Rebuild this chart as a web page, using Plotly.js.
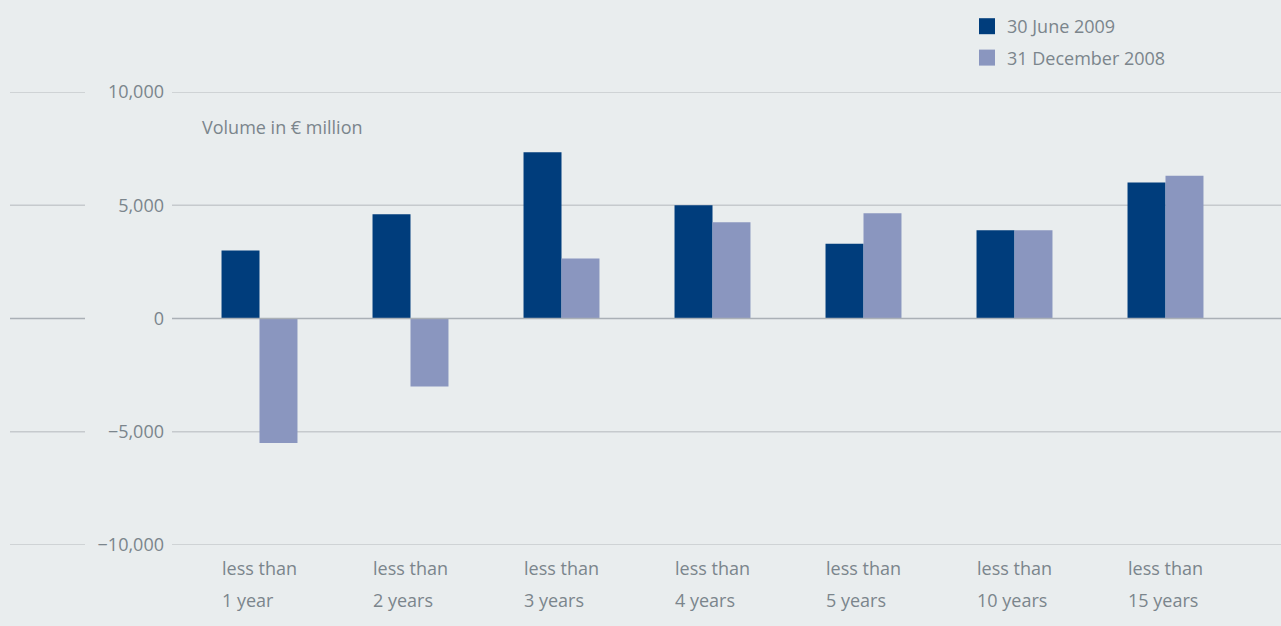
<!DOCTYPE html>
<html><head><meta charset="utf-8">
<script src="https://cdn.plot.ly/plotly-3.0.1.min.js"></script>
<style>html,body{margin:0;padding:0;background:#e9edee;} #chart{width:1281px;height:626px;}</style>
</head><body><div id="chart"></div>
<script>
const categories = ["1 year", "2 years", "3 years", "4 years", "5 years", "10 years", "15 years"];
const labelPrefix = "less than";
const june2009 = [3000, 4600, 7340, 5000, 3300, 3900, 6000];
const dec2008 = [-5500, -3000, 2650, 4250, 4650, 3900, 6300];
const seriesNames = ["30 June 2009", "31 December 2008"];
const yTicks = [-10000, -5000, 0, 5000, 10000];
const yTitle = "Volume in € million";

const textColor = "#7b858c";
const fontFam = "'Open Sans', 'Noto Sans', sans-serif";
const W = 1281, H = 626, ML = 184, MR = 40, MT = 92, MB = 81;
const plotW = W - ML - MR;
const px = p => (p - ML) / plotW;

const traces = [
  {type: "bar", x: categories, y: june2009, name: seriesNames[0], marker: {color: "#003d7c"}, showlegend: false, hoverinfo: "y"},
  {type: "bar", x: categories, y: dec2008, name: seriesNames[1], marker: {color: "#8a96bf"}, showlegend: false, hoverinfo: "y"},
  {type: "scatter", mode: "markers", x: [null], y: [null], name: seriesNames[0], legendgroup: "a", marker: {symbol: "square", size: 16, color: "#003d7c"}},
  {type: "scatter", mode: "markers", x: [null], y: [null], name: seriesNames[1], legendgroup: "b", marker: {symbol: "square", size: 16, color: "#8a96bf"}}
];

const shapes = [];
yTicks.forEach(v => {
  const isZero = v === 0;
  const col = isZero ? "#aab0b6" : "#c6cacd";
  shapes.push({type: "line", xref: "paper", yref: "y", x0: px(10), x1: px(85), y0: v, y1: v, line: {color: col, width: 1.5}, layer: "below"});
  shapes.push({type: "line", xref: "paper", yref: "y", x0: px(172), x1: px(W), y0: v, y1: v, line: {color: col, width: 1.5}, layer: isZero ? "above" : "below"});
});

const annotations = [];
categories.forEach(c => {
  annotations.push({xref: "x", yref: "paper", x: c, y: 0, xanchor: "left", yanchor: "middle", xshift: -40, yshift: -23, text: labelPrefix, showarrow: false, font: {size: 18, color: textColor, family: fontFam}});
  annotations.push({xref: "x", yref: "paper", x: c, y: 0, xanchor: "left", yanchor: "middle", xshift: -40, yshift: -55, text: c, showarrow: false, font: {size: 18, color: textColor, family: fontFam}});
});
annotations.push({xref: "paper", yref: "paper", x: px(200), y: 1, xanchor: "left", yanchor: "middle", yshift: -35, text: yTitle, showarrow: false, font: {size: 18, color: textColor, family: fontFam}});

const layout = {
  width: W, height: H,
  margin: {l: ML, r: MR, t: MT, b: MB, autoexpand: false},
  paper_bgcolor: "#e9edee", plot_bgcolor: "rgba(0,0,0,0)",
  font: {family: fontFam, size: 18, color: textColor},
  barmode: "group", bargap: 0.497, bargroupgap: 0,
  xaxis: {type: "category", showticklabels: false, showgrid: false, zeroline: false, showline: false, ticks: "", fixedrange: true},
  yaxis: {range: [-10000, 10000], tickvals: yTicks, tickformat: ",d", showgrid: false, zeroline: false, showline: false, ticks: "", ticklabelstandoff: 19, tickfont: {size: 18, color: textColor}, fixedrange: true},
  showlegend: true,
  legend: {x: px(967), y: 1 + (MT - 8) / (H - MT - MB), xanchor: "left", yanchor: "top", bgcolor: "rgba(0,0,0,0)", font: {size: 18, color: textColor}, tracegroupgap: 5, itemclick: false, itemdoubleclick: false},
  shapes: shapes, annotations: annotations
};

Plotly.newPlot("chart", traces, layout, {displayModeBar: false, staticPlot: true});
</script></body></html>
